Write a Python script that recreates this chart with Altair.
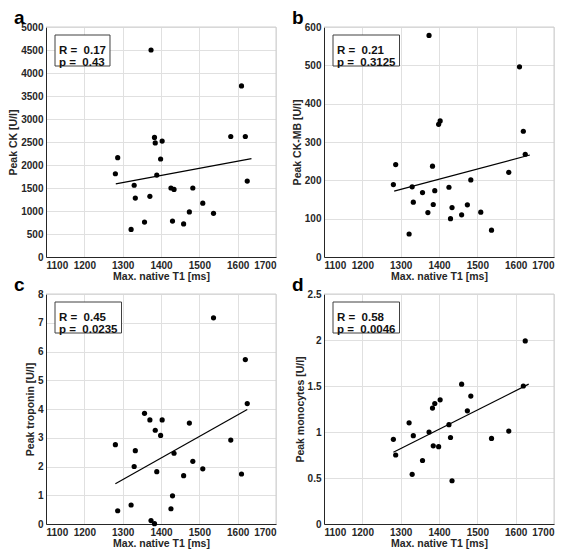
import altair as alt
import pandas as pd

# Max. native T1 [ms] per patient (shared x values)
t1_ms = [1281, 1287, 1322, 1330, 1333, 1357, 1371, 1374, 1383, 1385, 1389, 1399, 1403,
         1426, 1430, 1434, 1459, 1474, 1483, 1509, 1537, 1582, 1610, 1620, 1625]

peak_ck = [1810, 2160, 600, 1560, 1280, 760, 1320, 4500, 2600, 2480, 1780, 2130, 2520,
           1500, 780, 1470, 720, 980, 1500, 1170, 950, 2620, 3720, 2620, 1650]
peak_ckmb = [189, 241, 60, 183, 143, 168, 116, 578, 237, 137, 173, 346, 355,
             182, 100, 129, 110, 136, 201, 117, 70, 221, 496, 328, 268]
peak_trop = [2.76, 0.46, 0.66, 2.00, 2.55, 3.85, 3.62, 0.12, 0.01, 3.26, 1.82, 3.08, 3.62,
             0.53, 0.98, 2.46, 1.68, 3.51, 2.18, 1.92, 7.17, 2.92, 1.74, 5.72, 4.19]
peak_mono = [0.92, 0.75, 1.10, 0.54, 0.96, 0.69, None, 1.00, 1.26, 0.85, 1.31, 0.84, 1.35,
             1.08, 0.94, 0.47, 1.52, 1.23, 1.39, None, 0.93, 1.01, None, 1.50, 1.99]

x_ticks = [1100, 1200, 1300, 1400, 1500, 1600, 1700]

fit_a_x = [1282, 1636]
fit_a_y = [1590, 2140]
fit_b_x = [1283, 1637]
fit_b_y = [172, 266]
fit_c_x = [1281, 1625]
fit_c_y = [1.40, 3.98]
fit_d_x = [1281, 1634]
fit_d_y = [0.78, 1.52]

letters = ["a", "b", "c", "d"]
y_titles = ["Peak CK [U/l]", "Peak CK-MB [U/l]", "Peak troponin [U/l]", "Peak monocytes [U/l]"]
y_max = [5000, 600, 8, 2.5]
y_step = [500, 100, 1, 0.5]
r_vals = ["0.17", "0.21", "0.45", "0.58"]
p_vals = ["0.43", "0.3125", "0.0235", "0.0046"]

W, H = 230, 230
FONT = "Liberation Sans"
DARK = "#262626"

CW = {"R": 0.722, "p": 0.611, " ": 0.278, "\u00a0": 0.278, "=": 0.584, ".": 0.278}


def text_w(s, size):
    return sum(CW.get(ch, 0.556) for ch in s) * size


def panel(i, vals, fx, fy):
    df = pd.DataFrame({"t1": t1_ms, "v": vals}).dropna()
    n = int(round(y_max[i] / y_step[i]))
    yt = [round(k * y_step[i], 6) for k in range(n + 1)]
    x = alt.X("t1:Q", scale=alt.Scale(domain=[1100, 1700], nice=False, zero=False),
              axis=alt.Axis(values=x_ticks, tickCount=len(x_ticks), format="d",
                            title="Max. native T1 [ms]"))
    y = alt.Y("v:Q", scale=alt.Scale(domain=[0, y_max[i]], nice=False),
              axis=alt.Axis(values=yt, tickCount=len(yt), format="~r", title=y_titles[i]))
    pts = alt.Chart(df).mark_circle(size=27, color="black", opacity=1).encode(x=x, y=y)
    fit = alt.Chart(pd.DataFrame({"t1": fx, "v": fy})).mark_line(
        color="black", strokeWidth=1.2).encode(x="t1:Q", y="v:Q")
    one = pd.DataFrame({"k": [0]})
    top = alt.Chart(one).mark_rule(color="#cfcfcf", strokeWidth=1).encode(
        x=alt.value(0), x2=alt.value(W), y=alt.value(0))
    right = alt.Chart(one).mark_rule(color="#cfcfcf", strokeWidth=1).encode(
        x=alt.value(W), y=alt.value(0), y2=alt.value(H))
    r_line = "R =\u00a0 " + r_vals[i]
    p_line = "p =\u00a0 " + p_vals[i]
    bw = max(text_w(r_line, 11.5), text_w(p_line, 11.5)) + 8
    box = alt.Chart(one).mark_rect(fill="white", stroke="#404040", strokeWidth=1).encode(
        x=alt.value(9), x2=alt.value(9 + bw), y=alt.value(8), y2=alt.value(39))
    txt = alt.Chart(one).mark_text(
        align="left", baseline="middle", lineBreak="\n", lineHeight=12,
        fontSize=11.5, fontWeight="bold", font=FONT, color="#111111").encode(
        x=alt.value(13), y=alt.value(24), text=alt.value(r_line + "\n" + p_line))
    return alt.layer(top, right, pts, fit, box, txt).properties(
        width=W, height=H,
        title=alt.TitleParams(letters[i], anchor="start", frame="group", dx=-32,
                              fontSize=19, fontWeight="bold", font=FONT, color="black",
                              offset=-6))


pa = panel(0, peak_ck, fit_a_x, fit_a_y)
pb = panel(1, peak_ckmb, fit_b_x, fit_b_y)
pc = panel(2, peak_trop, fit_c_x, fit_c_y)
pd_ = panel(3, peak_mono, fit_d_x, fit_d_y)

chart = alt.concat(pa, pb, pc, pd_, columns=2, spacing={"row": 37, "column": 48},
                   bounds="flush").properties(padding=0).configure_axis(
    labelFont=FONT, labelFontSize=10, labelFontWeight="bold", labelColor=DARK,
    titleFont=FONT, titleFontSize=10.5, titleFontWeight="bold", titleColor=DARK,
    grid=True, gridColor="#e0e0e0", gridWidth=1, domainColor=DARK, domainWidth=1,
    ticks=False, labelOverlap=False,
).configure_axisX(labelPadding=3, titlePadding=1).configure_axisY(
    labelPadding=3, titlePadding=2).configure_view(stroke="transparent")

chart.save("out.html", embed_options={"renderer": "svg", "actions": False})
